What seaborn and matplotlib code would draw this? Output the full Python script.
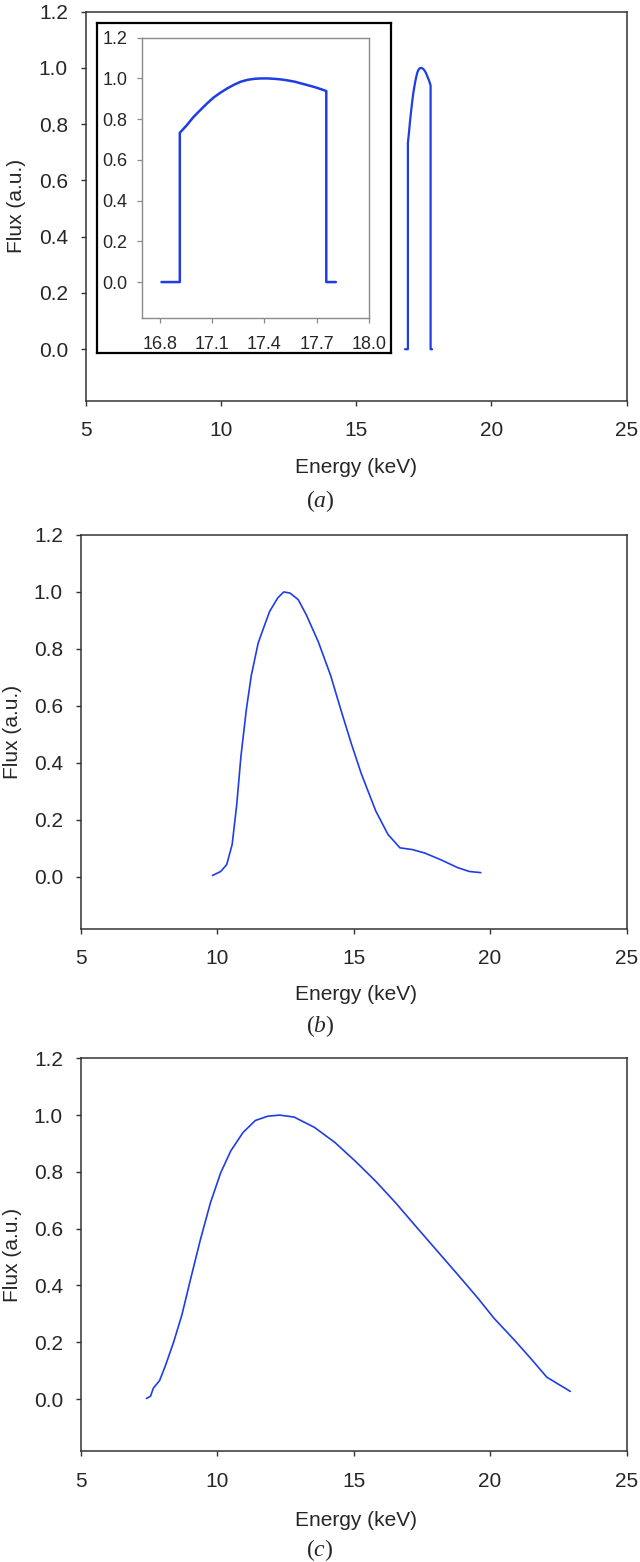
"""
X-ray spectra: (a) monochromatic-like band with zoomed inset,
(b) filtered spectrum, (c) broad spectrum.
"""

import matplotlib
matplotlib.use("Agg")
import matplotlib.pyplot as plt
import pandas as pd
import seaborn as sns

# ── Data ──────────────────────────────────────────────────────────────
a_energy = [16.81, 16.915, 16.915, 16.955, 16.994, 17.032, 17.071, 17.11,
            17.148, 17.187, 17.226, 17.265, 17.303, 17.342, 17.381, 17.419,
            17.458, 17.497, 17.535, 17.574, 17.613, 17.652, 17.69, 17.729,
            17.755, 17.755, 17.81]
a_flux = [0.0, 0.0, 0.733, 0.77, 0.811, 0.844, 0.877, 0.907,
          0.93, 0.951, 0.969, 0.984, 0.993, 0.998, 1.0, 1.0,
          0.998, 0.995, 0.990, 0.984, 0.975, 0.966, 0.957, 0.946,
          0.938, 0.0, 0.0]

b_energy = [9.83, 10.13, 10.35, 10.55, 10.72, 10.87, 11.07, 11.25, 11.5,
            11.62, 11.92, 12.22, 12.44, 12.67, 12.97, 13.27, 13.71, 14.16,
            14.53, 14.91, 15.28, 15.81, 16.26, 16.7, 17.15, 17.6, 18.2,
            18.8, 19.24, 19.66]
b_flux = [0.004, 0.018, 0.042, 0.113, 0.255, 0.421, 0.587, 0.706, 0.819,
          0.852, 0.931, 0.979, 1.0, 0.996, 0.973, 0.919, 0.824, 0.706,
          0.587, 0.469, 0.362, 0.231, 0.148, 0.101, 0.095, 0.083, 0.059,
          0.032, 0.018, 0.014]

c_energy = [7.41, 7.56, 7.66, 7.89, 8.11, 8.41, 8.71, 9.01, 9.38, 9.75,
            10.13, 10.5, 10.95, 11.4, 11.85, 12.29, 12.82, 13.56, 14.31,
            15.06, 15.81, 16.55, 17.3, 18.05, 18.8, 19.54, 20.14, 20.89,
            21.49, 22.08, 22.94]
c_flux = [0.002, 0.01, 0.038, 0.065, 0.119, 0.202, 0.297, 0.416, 0.559,
          0.69, 0.797, 0.874, 0.939, 0.981, 0.996, 1.0, 0.993, 0.957,
          0.904, 0.838, 0.767, 0.69, 0.606, 0.523, 0.44, 0.357, 0.285,
          0.208, 0.143, 0.077, 0.027]

x_ticks = [5, 10, 15, 20, 25]
y_ticks = [0.0, 0.2, 0.4, 0.6, 0.8, 1.0, 1.2]
inset_x_ticks = [16.8, 17.1, 17.4, 17.7, 18.0]

LINE = "#1f3de6"
FRAME = "#333333"
W, H = 640, 1562

sns.set_theme(style="ticks")
plt.rcParams["font.family"] = ["Liberation Sans", "DejaVu Sans"]
plt.rcParams["mathtext.fontset"] = "custom"
plt.rcParams["mathtext.rm"] = "Liberation Serif"
plt.rcParams["mathtext.it"] = "Liberation Serif:italic"

fig = plt.figure(figsize=(W / 100, H / 100), dpi=100)


def px_axes(left, top, right, bottom, **kw):
    return fig.add_axes([left / W, 1 - bottom / H, (right - left) / W,
                         (bottom - top) / H], **kw)


def style_main(ax, ylabel_x):
    ax.set_xlim(5, 25)
    ax.set_ylim(-0.183, 1.2)
    ax.set_xticks(x_ticks)
    ax.set_yticks(y_ticks)
    ax.set_xticklabels([str(t) for t in x_ticks])
    ax.set_yticklabels([f"{t:.1f}" for t in y_ticks])
    for s in ax.spines.values():
        s.set_visible(True)
        s.set_color(FRAME)
        s.set_linewidth(1.1)
    ax.tick_params(direction="out", length=3.8, width=1.0, color=FRAME,
                   labelsize=15)
    ax.tick_params(axis="y", pad=9)
    ax.tick_params(axis="x", pad=11)
    ax.set_xlabel("")
    ax.set_ylabel("Flux (a.u.)", fontsize=15)
    # label anchor is the right side of the rotated text
    ax.yaxis.set_label_coords(ylabel_x, 0.5)


def label_below(xlabel_y, tag_y, tag):
    fig.text(356 / W, 1 - xlabel_y / H, "Energy (keV)", ha="center",
             va="center", fontsize=15)
    fig.text(0.5, 1 - tag_y / H, rf"$(\mathit{{{tag}}})$", ha="center",
             va="center", fontsize=17)


# ── Panel (a) ─────────────────────────────────────────────────────────
df_a = pd.DataFrame({"energy": a_energy, "flux": a_flux})
ax_a = px_axes(85.7, 11.7, 626.5, 400.7)
sns.lineplot(data=df_a, x="energy", y="flux", estimator=None, sort=False,
             color=LINE, linewidth=1.6, ax=ax_a)
style_main(ax_a, -0.110)
label_below(467.3, 501, "a")

# inset frame + inset plot
box = px_axes(96.7, 23.3, 390.6, 353.3)
box.set_xticks([])
box.set_yticks([])
for s in box.spines.values():
    s.set_visible(True)
    s.set_color("black")
    s.set_linewidth(1.6)
box.set_facecolor("white")

ax_in = px_axes(142.3, 37.7, 369, 318.3)
sns.lineplot(data=df_a, x="energy", y="flux", estimator=None, sort=False,
             color=LINE, linewidth=1.8, ax=ax_in)
ax_in.set_xlim(16.7, 18.0)
ax_in.set_ylim(-0.178, 1.2)
ax_in.set_xticks(inset_x_ticks)
ax_in.set_xticklabels([f"{t:.1f}" for t in inset_x_ticks])
ax_in.set_yticks(y_ticks)
ax_in.set_yticklabels([f"{t:.1f}" for t in y_ticks])
for s in ax_in.spines.values():
    s.set_visible(True)
    s.set_color("#8a8a8a")
    s.set_linewidth(1.0)
ax_in.tick_params(direction="out", length=3.5, width=0.9, color="#8a8a8a",
                  labelsize=13)
ax_in.tick_params(axis="x", pad=9)
ax_in.tick_params(axis="y", pad=7)
ax_in.set_xlabel("")
ax_in.set_ylabel("")

# ── Panel (b) ─────────────────────────────────────────────────────────
df_b = pd.DataFrame({"energy": b_energy, "flux": b_flux})
ax_b = px_axes(80.7, 535, 626.5, 928.7)
sns.lineplot(data=df_b, x="energy", y="flux", estimator=None, sort=False,
             color=LINE, linewidth=1.2, ax=ax_b)
style_main(ax_b, -0.107)
label_below(995, 1026, "b")

# ── Panel (c) ─────────────────────────────────────────────────────────
df_c = pd.DataFrame({"energy": c_energy, "flux": c_flux})
ax_c = px_axes(80.7, 1058.3, 626.5, 1451)
sns.lineplot(data=df_c, x="energy", y="flux", estimator=None, sort=False,
             color=LINE, linewidth=1.2, ax=ax_c)
style_main(ax_c, -0.107)
label_below(1520, 1550, "c")

fig.savefig("out.png", dpi=100)
plt.close(fig)
